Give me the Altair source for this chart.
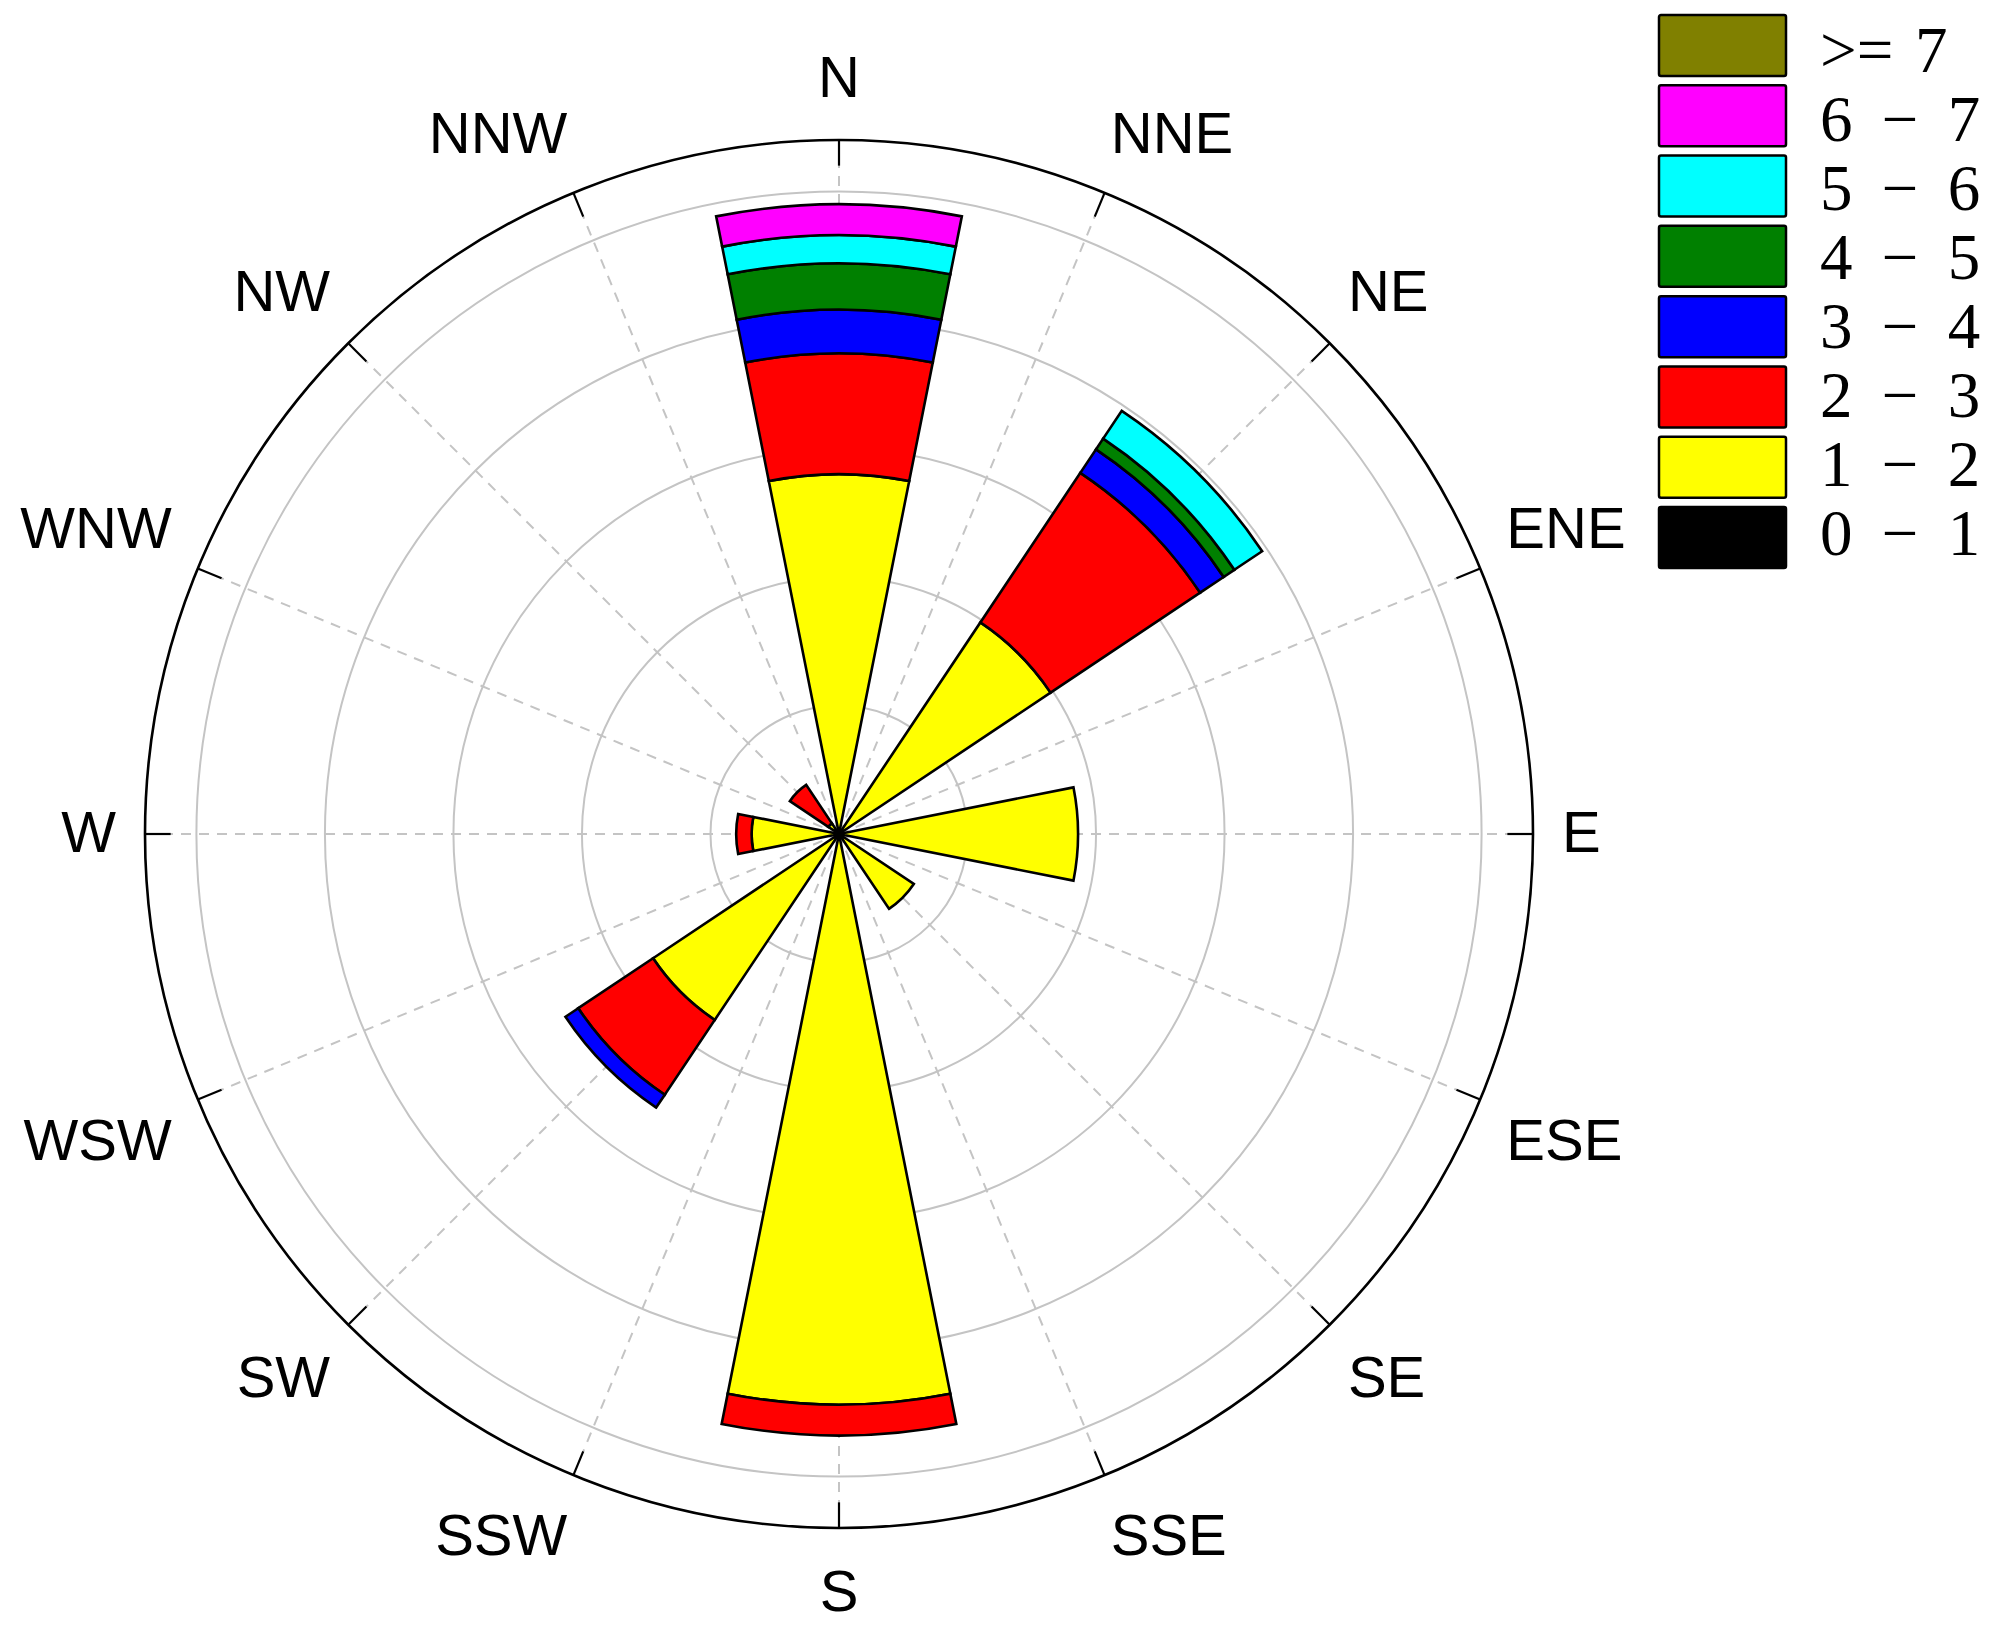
import altair as alt
import numpy as np
import pandas as pd

# ---------------- data ----------------
directions = ["N", "NNE", "NE", "ENE", "E", "ESE", "SE", "SSE",
              "S", "SSW", "SW", "WSW", "W", "WNW", "NW", "NNW"]
speed_bins = ["0 - 1", "1 - 2", "2 - 3", "3 - 4", "4 - 5", "5 - 6", "6 - 7", ">= 7"]
SP = "\u00a0\u2009"
legend_labels = [f"0{SP}\u2212{SP}1", f"1{SP}\u2212{SP}2", f"2{SP}\u2212{SP}3",
                 f"3{SP}\u2212{SP}4", f"4{SP}\u2212{SP}5", f"5{SP}\u2212{SP}6",
                 f"6{SP}\u2212{SP}7", ">=\u00a0\u200a7"]
bin_colors = ["#000000", "#ffff00", "#ff0000", "#0000ff", "#008000", "#00ffff", "#ff00ff", "#808000"]

#            N    NNE  NE   ENE  E    ESE  SE   SSE  S     SSW  SW   WSW  W    WNW  NW   NNW
freq_0_1 = [0.0, 0.0, 0.0, 0.0, 0.0, 0.0, 0.0, 0.0, 0.0,  0.0, 0.0, 0.0, 0.0, 0.0, 0.0, 0.0]
freq_1_2 = [14.0, 0.0, 9.9, 0.0, 9.3, 0.0, 3.5, 0.0, 22.2, 0.0, 8.7, 0.0, 3.4, 0.0, 0.5, 0.0]
freq_2_3 = [4.7, 0.0, 7.0, 0.0, 0.0, 0.0, 0.0, 0.0, 1.2,  0.0, 3.5, 0.0, 0.6, 0.0, 1.8, 0.0]
freq_3_4 = [1.7, 0.0, 1.1, 0.0, 0.0, 0.0, 0.0, 0.0, 0.0,  0.0, 0.6, 0.0, 0.0, 0.0, 0.0, 0.0]
freq_4_5 = [1.8, 0.0, 0.5, 0.0, 0.0, 0.0, 0.0, 0.0, 0.0,  0.0, 0.0, 0.0, 0.0, 0.0, 0.0, 0.0]
freq_5_6 = [1.1, 0.0, 1.3, 0.0, 0.0, 0.0, 0.0, 0.0, 0.0,  0.0, 0.0, 0.0, 0.0, 0.0, 0.0, 0.0]
freq_6_7 = [1.2, 0.0, 0.0, 0.0, 0.0, 0.0, 0.0, 0.0, 0.0,  0.0, 0.0, 0.0, 0.0, 0.0, 0.0, 0.0]
freq_ge7 = [0.0, 0.0, 0.0, 0.0, 0.0, 0.0, 0.0, 0.0, 0.0,  0.0, 0.0, 0.0, 0.0, 0.0, 0.0, 0.0]

grid_rings = [5, 10, 15, 20, 25]
outer_ring = 27
spoke_end = 26

# ---------------- layout ----------------
CX, CY = 831, 826
R_PX = 694
W, H = 1984, 1616
LABEL_R_PX = 731
FS = 58
CAP = 42

all_freqs = [freq_0_1, freq_1_2, freq_2_3, freq_3_4, freq_4_5, freq_5_6, freq_6_7, freq_ge7]
step = 360 / len(directions)

rows = []
for i, d in enumerate(directions):
    ang = i * step
    cum = 0.0
    for b, f in zip(speed_bins, all_freqs):
        v = f[i]
        if v > 0:
            rows.append(dict(dir=d, bin=b, t0=ang - step / 2, t1=ang + step / 2, r0=cum, r1=cum + v))
            cum += v
wedges_df = pd.DataFrame(rows)

theta_scale = alt.Scale(type="linear", domain=[0, 360], range=[0, 2 * np.pi], zero=False, nice=False)
r_scale = alt.Scale(type="linear", domain=[0, outer_ring], range=[0, R_PX], zero=True, nice=False)
x_scale = alt.Scale(domain=[-outer_ring, outer_ring], range=[CX - R_PX, CX + R_PX], nice=False, zero=False)
y_scale = alt.Scale(domain=[-outer_ring, outer_ring], range=[CY + R_PX, CY - R_PX], nice=False, zero=False)
color_scale = alt.Scale(domain=speed_bins, range=bin_colors)

# grid circles
rings_df = pd.DataFrame({"r": grid_rings, "t0": 0, "t1": 360})
rings = alt.Chart(rings_df).mark_arc(fill="white", fillOpacity=0, stroke="#c4c4c4", strokeWidth=2).encode(
    theta=alt.Theta("t0:Q", scale=theta_scale, stack=None),
    theta2="t1:Q",
    radius=alt.Radius("r:Q", scale=r_scale),
    radius2="r:Q",
    x=alt.value(CX), y=alt.value(CY),
)

# dashed spokes and ticks
angs = np.deg2rad(np.arange(len(directions)) * step)
spokes_df = pd.DataFrame({
    "x0": 0.0, "y0": 0.0,
    "x1": spoke_end * np.sin(angs), "y1": spoke_end * np.cos(angs),
})
ticks_df = pd.DataFrame({
    "x0": spoke_end * np.sin(angs), "y0": spoke_end * np.cos(angs),
    "x1": outer_ring * np.sin(angs), "y1": outer_ring * np.cos(angs),
})
spokes = alt.Chart(spokes_df).mark_rule(color="#c4c4c4", strokeWidth=2, strokeDash=[10, 8]).encode(
    x=alt.X("x0:Q", scale=x_scale, axis=None), x2="x1:Q",
    y=alt.Y("y0:Q", scale=y_scale, axis=None), y2="y1:Q",
)
ticks = alt.Chart(ticks_df).mark_rule(color="black", strokeWidth=2.2).encode(
    x=alt.X("x0:Q", scale=x_scale, axis=None), x2="x1:Q",
    y=alt.Y("y0:Q", scale=y_scale, axis=None), y2="y1:Q",
)

# wedges
wedges = alt.Chart(wedges_df).mark_arc(stroke="black", strokeWidth=2.6, strokeJoin="miter").encode(
    theta=alt.Theta("t0:Q", scale=theta_scale, stack=None),
    theta2="t1:Q",
    radius=alt.Radius("r1:Q", scale=r_scale),
    radius2="r0:Q",
    color=alt.Color("bin:N", scale=color_scale, legend=None),
    x=alt.value(CX), y=alt.value(CY),
)

# outer circle
outer_df = pd.DataFrame({"r": [outer_ring], "t0": [0], "t1": [360]})
outer = alt.Chart(outer_df).mark_arc(fill="white", fillOpacity=0, stroke="black", strokeWidth=2.6).encode(
    theta=alt.Theta("t0:Q", scale=theta_scale, stack=None),
    theta2="t1:Q",
    radius=alt.Radius("r:Q", scale=r_scale),
    radius2="r:Q",
    x=alt.value(CX), y=alt.value(CY),
)

# direction labels: the label corner nearest the circle sits near the direction ray
px_per_unit = R_PX / outer_ring
lab_rows = []
for i, d in enumerate(directions):
    a = i * step
    s, c = np.sin(np.deg2rad(a)), np.cos(np.deg2rad(a))
    h_al = "left" if s > 1e-6 else ("right" if s < -1e-6 else "center")
    v_al = "up" if c > 1e-6 else ("down" if c < -1e-6 else "mid")
    lab_rows.append(dict(dir=d, t=a, r=LABEL_R_PX / px_per_unit, grp=f"{h_al}-{v_al}"))
labels_df = pd.DataFrame(lab_rows)

label_layers = []
for grp in sorted(labels_df["grp"].unique()):
    h_al, v_al = grp.split("-")
    if v_al == "up":
        kw = dict(baseline="alphabetic", dy=-6)
    elif v_al == "down":
        kw = dict(baseline="alphabetic", dy=CAP + 4)
    else:
        kw = dict(baseline="middle", dy=1)
    kw["dx"] = -8 if h_al == "left" else (8 if h_al == "right" else 0)
    label_layers.append(
        alt.Chart(labels_df).transform_filter(alt.datum.grp == grp).mark_text(
            font="Liberation Sans", fontSize=FS, align=h_al, color="black", **kw
        ).encode(
            theta=alt.Theta("t:Q", scale=theta_scale, stack=None),
            radius=alt.Radius("r:Q", scale=r_scale),
            text="dir:N",
            x=alt.value(CX), y=alt.value(CY),
        )
    )

# legend
leg_df = pd.DataFrame({"bin": speed_bins, "label": legend_labels})
leg_y = alt.Scale(domain=list(reversed(speed_bins)), range=[7, 560], paddingInner=0.132, paddingOuter=0)
leg_boxes = alt.Chart(leg_df).mark_bar(stroke="black", strokeWidth=2.5, cornerRadius=2).encode(
    y=alt.Y("bin:N", scale=leg_y, axis=None),
    x=alt.value(1651), x2=alt.value(1778),
    color=alt.Color("bin:N", scale=color_scale, legend=None),
)
leg_text = alt.Chart(leg_df).mark_text(font="Liberation Serif", fontSize=65, align="left",
                                       baseline="middle", color="black", dy=2).encode(
    y=alt.Y("bin:N", scale=leg_y, axis=None),
    x=alt.value(1812),
    text="label:N",
)

chart = alt.layer(rings, spokes, wedges, outer, ticks, *label_layers, leg_boxes, leg_text).resolve_scale(
    x="independent", y="independent"
).properties(
    width=W, height=H, autosize=alt.AutoSizeParams(type="none"), padding=0
).configure_view(strokeWidth=0)

chart.save("out.html", embed_options={"renderer": "svg", "actions": False})
